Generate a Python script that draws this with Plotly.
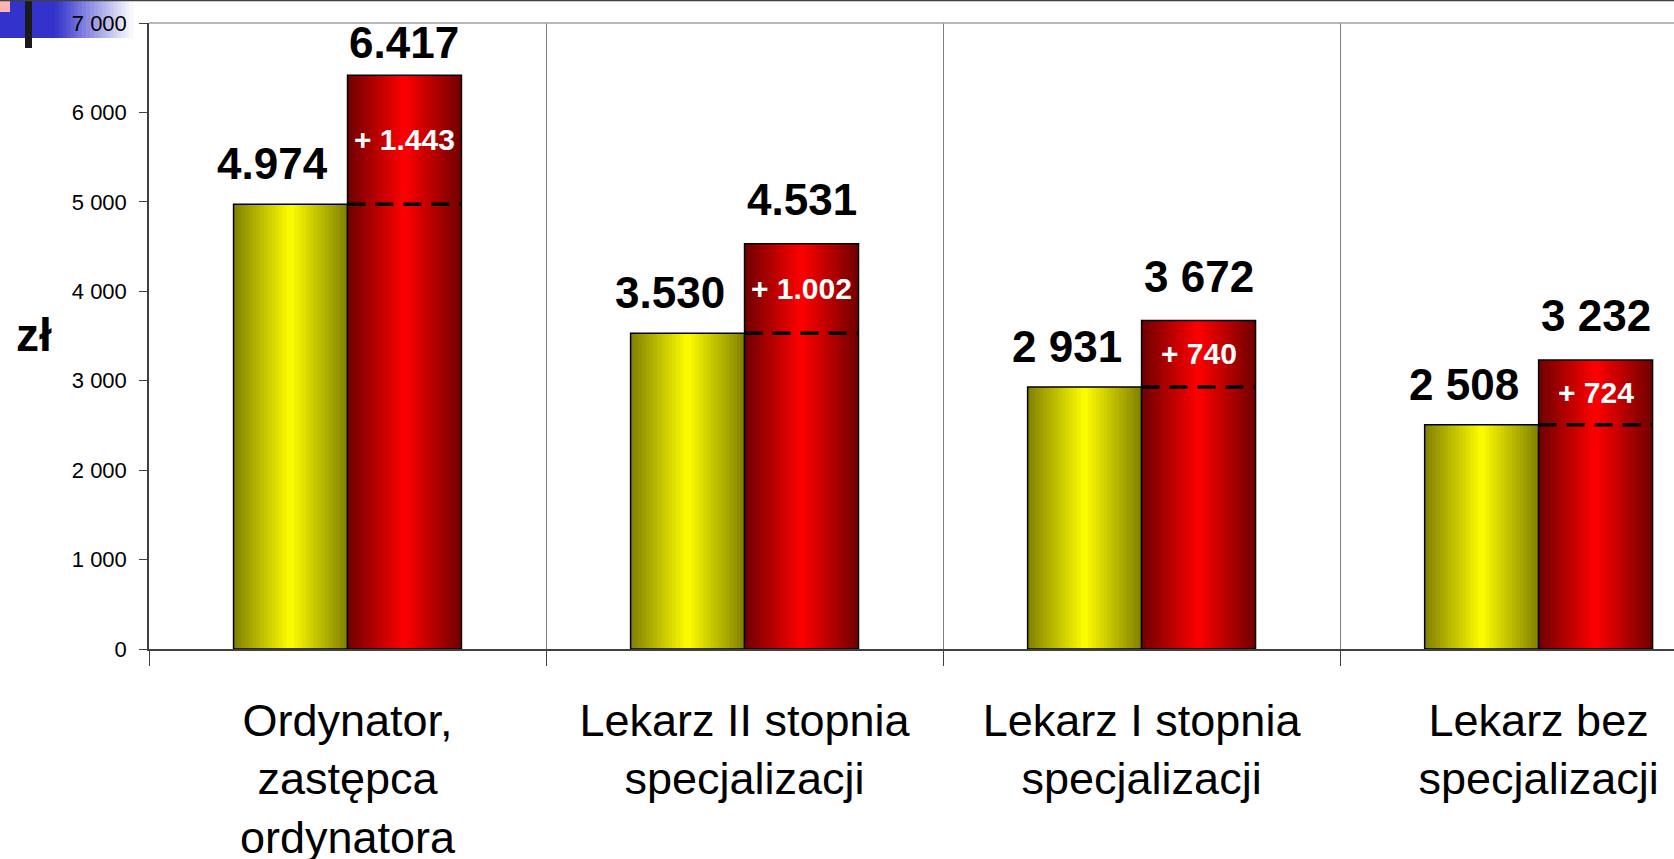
import plotly.graph_objects as go

# data
categories = ["Ordynator,<br>zastępca<br>ordynatora",
              "Lekarz II stopnia<br>specjalizacji",
              "Lekarz I stopnia<br>specjalizacji",
              "Lekarz bez<br>specjalizacji"]
before = [4974, 3530, 2931, 2508]
after = [6417, 4531, 3672, 3232]
before_labels = ["4.974", "3.530", "2 931", "2 508"]
after_labels = ["6.417", "4.531", "3 672", "3 232"]
rise_labels = ["+ 1.443", "+ 1.002", "+ 740", "+ 724"]
y_ticks = [0, 1000, 2000, 3000, 4000, 5000, 6000, 7000]

W, H = 1674, 859
L, R, T, B = 149, 0, 23, 210
BW = 0.287      # bar width in category units
CAT_PX = 397    # pixel width of one category
NSTRIP = 30     # strips used to fake the excel gradient
FONT = "Liberation Sans, Arial, sans-serif"


def shade(dark, bright, u):
    # u in 0..1 across the bar, brightest in the middle
    t = 1 - abs(2 * u - 1)
    c = [int(d + (b - d) * t) for d, b in zip(dark, bright)]
    return "rgb({},{},{})".format(*c)


def px(x, y):
    # pixel -> paper coords
    pw, ph = W - L - R, H - T - B
    return (x - L) / pw, (H - B - y) / ph


fig = go.Figure()

for vals, off, dark, bright in [(before, -BW, (128, 128, 0), (255, 255, 0)),
                                (after, 0, (112, 0, 0), (255, 0, 0))]:
    sw = BW / NSTRIP
    for i in range(NSTRIP):
        w = sw * 1.6 if i < NSTRIP - 1 else sw
        fig.add_trace(go.Bar(
            x=categories, y=vals, width=w, offset=off + i * sw,
            marker=dict(color=shade(dark, bright, (i + 0.5) / NSTRIP), line_width=0),
            showlegend=False, hoverinfo="skip"))
    fig.add_trace(go.Bar(
        x=categories, y=vals, width=BW, offset=off,
        marker=dict(color="rgba(0,0,0,0)", line=dict(color="black", width=1.5)),
        showlegend=False))

annotations = []
shapes = []
for i, cat in enumerate(categories):
    lift = 18 if after[i] < 6000 else 6
    annotations.append(dict(x=cat, y=before[i], text="<b>%s</b>" % before_labels[i],
                            xshift=-BW / 2 * CAT_PX - 18, yshift=14, yanchor="bottom",
                            showarrow=False, font=dict(size=44, color="black", family=FONT)))
    annotations.append(dict(x=cat, y=after[i], text="<b>%s</b>" % after_labels[i],
                            xshift=BW / 2 * CAT_PX, yshift=lift, yanchor="bottom",
                            showarrow=False, font=dict(size=44, color="black", family=FONT)))
    annotations.append(dict(x=cat, y=(before[i] + after[i]) / 2, text="<b>%s</b>" % rise_labels[i],
                            xshift=BW / 2 * CAT_PX, yanchor="middle",
                            showarrow=False, font=dict(size=30, color="white", family=FONT)))
    shapes.append(dict(type="line", xref="x", yref="y", x0=i, x1=i + BW,
                       y0=before[i], y1=before[i],
                       line=dict(color="black", width=3.5, dash="18px,10px")))

# y axis title
zx, zy = px(34, 335)
annotations.append(dict(xref="paper", yref="paper", x=zx, y=zy, text="<b>zł</b>",
                        showarrow=False, xanchor="center", yanchor="middle",
                        font=dict(size=46, color="black", family=FONT)))

# plot top border + slide top line
shapes.append(dict(type="line", xref="paper", yref="paper", x0=0, x1=1, y0=1, y1=1,
                   line=dict(color="#a0a0a0", width=1.5)))
a0, b0 = px(0, 0.5)
a1, _ = px(W, 0.5)
shapes.append(dict(type="line", xref="paper", yref="paper", x0=a0, x1=a1, y0=b0, y1=b0,
                   line=dict(color="#404040", width=1.5)))

# slide decoration in the corner
x0, y0 = px(0, 0)
x1, y1 = px(55, 38)
shapes.append(dict(type="rect", xref="paper", yref="paper", x0=x0, x1=x1, y0=y1, y1=y0,
                   fillcolor="#3333cc", line_width=0, layer="below"))
steps = 20
for k in range(steps):
    t = (k + 0.5) / steps
    c = "rgb({},{},{})".format(int(51 + 204 * t), int(51 + 204 * t), int(204 + 51 * t))
    ga, _ = px(55 + 78 * k / steps, 0)
    gb, _ = px(55 + 78 * (k + 1) / steps + 0.5, 0)
    shapes.append(dict(type="rect", xref="paper", yref="paper", x0=ga, x1=gb, y0=y1, y1=y0,
                       fillcolor=c, line_width=0, layer="below"))
p0, q0 = px(0, 0)
p1, q1 = px(10, 12)
shapes.append(dict(type="rect", xref="paper", yref="paper", x0=p0, x1=p1, y0=q1, y1=q0,
                   fillcolor="#ffb4b4", line_width=0, layer="below"))
k0, m0 = px(25, 0)
k1, m1 = px(32, 48)
shapes.append(dict(type="rect", xref="paper", yref="paper", x0=k0, x1=k1, y0=m1, y1=m0,
                   fillcolor="#1a1a1a", line_width=0, layer="below"))

fig.update_layout(
    width=W, height=H,
    margin=dict(l=L, r=R, t=T, b=B),
    paper_bgcolor="white", plot_bgcolor="white",
    barmode="overlay",
    separators=", ",
    font=dict(family=FONT, color="black"),
    showlegend=False,
    annotations=annotations,
    shapes=shapes,
)
fig.update_xaxes(
    type="category", range=[-0.5, 3.341], automargin=False,
    tickson="boundaries", ticks="outside", ticklen=15, tickcolor="#404040", tickwidth=1,
    showgrid=True, gridcolor="#808080", gridwidth=1,
    showline=True, linecolor="#404040", linewidth=1.5,
    tickfont=dict(size=45, color="black", family=FONT),
    ticklabelstandoff=31,
)
fig.update_yaxes(
    range=[0, 7000], tickvals=y_ticks, tickformat=",", automargin=False,
    ticks="outside", ticklen=8, tickcolor="#404040",
    showgrid=False, zeroline=False,
    showline=True, linecolor="#404040", linewidth=1.5,
    tickfont=dict(size=22, color="black", family=FONT),
    ticklabelstandoff=8,
)

# page body has a default 8px margin; drop it so the chart sits at 0,0
fig.write_html("out.html", config={"displayModeBar": False},
               post_script="document.body.style.margin='0px';")
